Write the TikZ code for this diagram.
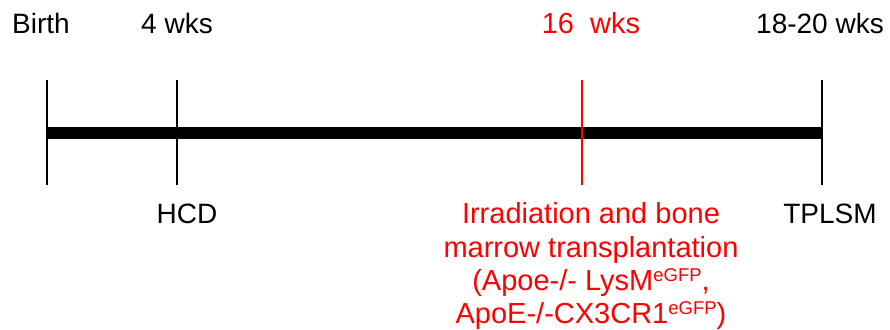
\documentclass[tikz,border=0pt]{standalone}
\usepackage{fontspec}
\setmainfont{Liberation Sans}
\newcommand{\supg}[1]{\raisebox{9pt}{\fontsize{18.5}{18.5}\selectfont #1}}
\begin{document}
\begin{tikzpicture}[x=1pt,y=-1pt,
  lbl/.style={inner sep=0pt, anchor=base, font=\fontsize{28}{33}\selectfont},
  redlbl/.style={inner sep=0pt, anchor=base, text=red, font=\fontsize{29}{33}\selectfont},
  tick/.style={line width=2pt, black},
  redtick/.style={line width=1.5pt, red},
  axis/.style={line width=12pt, black}]
\useasboundingbox (0,0) rectangle (890,329);
% timeline
\coordinate (s) at (47,133);
\coordinate (e) at (822,133);
\draw[axis] (s) -- (e);
% ticks
\coordinate (t0a) at (47,80);  \coordinate (t0b) at (47,185);
\coordinate (t1a) at (177,80); \coordinate (t1b) at (177,185);
\coordinate (t2a) at (582,80); \coordinate (t2b) at (582,185);
\coordinate (t3a) at (822,80); \coordinate (t3b) at (822,185);
\draw[tick] (t0a) -- (t0b);
\draw[tick] (t1a) -- (t1b);
\draw[redtick] (t2a) -- (t2b);
\draw[tick] (t3a) -- (t3b);
% top labels
\node[lbl] (birth) at (41,34) {Birth};
\node[lbl] (w4) at (177,34) {4 wks};
\node[redlbl] (w16) at (591,34) {16\ \ wks};
\node[lbl] (w18) at (820,34) {18-20 wks};
% bottom labels
\node[lbl] (hcd) at (187,223) {HCD};
\node[lbl] (tplsm) at (830,223) {TPLSM};
\node[redlbl] (irr1) at (591,223) {Irradiation and bone};
\node[redlbl] (irr2) at (591,257) {marrow transplantation};
\node[redlbl] (irr3) at (591,290) {(Apoe-/- LysM\supg{eGFP},};
\node[redlbl] (irr4) at (591,323) {ApoE-/-CX3CR1\supg{eGFP})};
\end{tikzpicture}
\end{document}
